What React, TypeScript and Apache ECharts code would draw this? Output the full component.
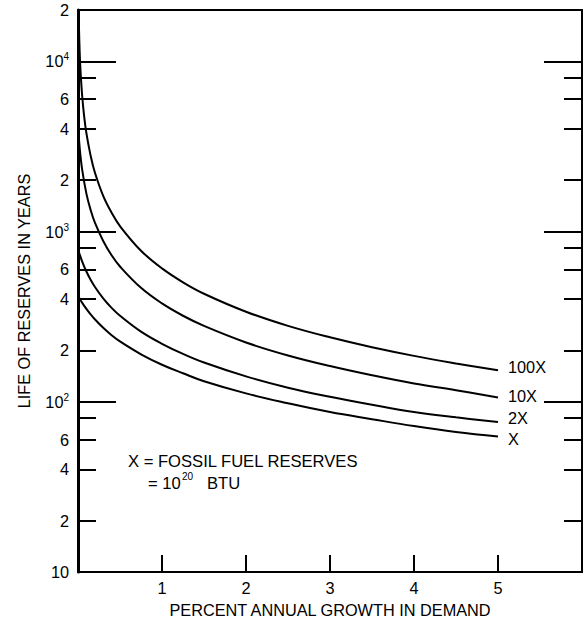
import React, { useEffect, useRef } from 'react';
import * as echarts from 'echarts';

// Percent annual growth in demand (x) and life of reserves in years (y)
const growthCommon = [0, 0.02, 0.05, 0.1, 0.15, 0.2, 0.3, 0.4, 0.5, 0.75, 1, 1.25, 1.5, 2, 2.5, 3, 3.5, 4, 4.5, 5];
const lifeX = [420, 403, 381, 351, 326, 305, 272, 246, 226, 190, 165, 147, 132, 112, 98, 87, 79, 72, 66.5, 62.5];
const life2X = [790, 733, 666, 582, 521, 474, 405, 356, 320, 258, 219, 191, 170, 141, 121, 107, 96, 87, 81, 76];
const life10X = [4300, 3100, 2300, 1670, 1340, 1130, 880, 725, 623, 467, 378, 320, 279, 223, 187, 162, 143, 128, 117, 106];
const growth100X = [0.01, 0.02, 0.03, 0.05, 0.075, 0.1, 0.15, 0.2, 0.3, 0.4, 0.5, 0.75, 1, 1.25, 1.5, 2, 2.5, 3, 3.5, 4, 4.5, 5];
const life100X = [16700, 11300, 8770, 6230, 4670, 3780, 2790, 2230, 1620, 1290, 1075, 771, 607, 503, 431, 338, 279, 239, 209, 186, 168, 153];

const xTickValues = [1, 2, 3, 4, 5];
const yDecadeTicks = [100, 1000, 10000];
const yMinorTicks = [20, 40, 60, 80, 200, 400, 600, 800, 2000, 4000, 6000, 8000];
const yLabelValues = [10, 20, 40, 60, 100, 200, 400, 600, 1000, 2000, 4000, 6000, 10000, 20000];
const Y_MIN = 10;
const Y_MAX = 20000;

const FONT = "'Liberation Sans', Arial, sans-serif";
const FS = 16.3;

export default function App() {
  const ref = useRef<HTMLDivElement>(null);
  useEffect(() => {
    if (!ref.current) return;
    const chart = echarts.init(ref.current, null, { renderer: 'svg' });
    const lg = (v: number) => Math.log10(v);
    const lmin = lg(Y_MIN);
    const lmax = lg(Y_MAX);

    const labelFmt = (v: number) => {
      const n = Math.round(Math.pow(10, v));
      if (n === 10) return '10';
      if (n === 100) return '{b|10}{s|2}';
      if (n === 1000) return '{b|10}{s|3}';
      if (n === 10000) return '{b|10}{s|4}';
      return String(n).charAt(0);
    };

    const tickAxis = (pos: 'left' | 'right', vals: number[], len: number, labels: boolean) => ({
      type: 'value',
      position: pos,
      min: lmin,
      max: lmax,
      splitLine: { show: false },
      axisLine: { show: false },
      axisTick: {
        show: true,
        inside: true,
        length: len,
        customValues: vals.map(lg),
        lineStyle: { color: '#000', width: 2 },
      },
      axisLabel: labels
        ? {
            show: true,
            customValues: yLabelValues.map(lg),
            formatter: labelFmt,
            color: '#000',
            fontFamily: FONT,
            fontSize: FS,
            margin: 9,
            rich: {
              b: { fontFamily: FONT, fontSize: FS, color: '#000' },
              s: { fontFamily: FONT, fontSize: 10, color: '#000', padding: [0, 0, 9, 0] },
            },
          }
        : { show: false },
    });

    const lineSeries = (name: string, xs: number[], ys: number[], offset: number[]) => ({
      type: 'line',
      name,
      xAxisIndex: 0,
      yAxisIndex: 0,
      data: xs.map((x, i) => [x, ys[i]]),
      showSymbol: false,
      symbol: 'none',
      smooth: 0.4,
      lineStyle: { color: '#000', width: 2 },
      endLabel: {
        show: true,
        formatter: name,
        color: '#000',
        fontFamily: FONT,
        fontSize: FS,
        offset,
      },
      silent: true,
    });

    const txt = (text: string, left: number, top: number, size: number) => ({
      type: 'text',
      left,
      top,
      style: { text, fill: '#000', fontFamily: FONT, fontSize: size },
    });

    chart.setOption({
      animation: false,
      backgroundColor: '#fff',
      grid: {
        left: 78,
        right: 2,
        top: 10,
        bottom: 51,
        show: true,
        borderColor: '#000',
        borderWidth: 2,
        backgroundColor: 'transparent',
      },
      xAxis: [
        {
          type: 'value',
          min: 0,
          max: 6,
          interval: 1,
          splitLine: { show: false },
          axisLine: { show: true, lineStyle: { color: '#000', width: 2 } },
          axisTick: {
            show: true,
            inside: true,
            length: 17,
            customValues: xTickValues,
            lineStyle: { color: '#000', width: 2 },
          },
          axisLabel: {
            show: true,
            customValues: xTickValues,
            color: '#000',
            fontFamily: FONT,
            fontSize: FS,
            margin: 8,
          },
          name: 'PERCENT ANNUAL GROWTH IN DEMAND',
          nameLocation: 'middle',
          nameGap: 30,
          nameTextStyle: { color: '#000', fontFamily: FONT, fontSize: FS },
        },
      ],
      yAxis: [
        {
          type: 'log',
          logBase: 10,
          min: Y_MIN,
          max: Y_MAX,
          position: 'left',
          splitLine: { show: false },
          axisLine: { show: true, lineStyle: { color: '#000', width: 3 } },
          axisTick: { show: false },
          axisLabel: { show: false },
          name: 'LIFE OF RESERVES IN YEARS',
          nameLocation: 'middle',
          nameGap: 46,
          nameTextStyle: { color: '#000', fontFamily: FONT, fontSize: FS },
        },
        tickAxis('left', yDecadeTicks, 38, true),
        tickAxis('left', yMinorTicks, 18, false),
        tickAxis('right', yDecadeTicks, 38, false),
        tickAxis('right', yMinorTicks, 18, false),
      ],
      series: [
        lineSeries('100X', growth100X, life100X, [2, -3]),
        lineSeries('10X', growthCommon, life10X, [2, -1]),
        lineSeries('2X', growthCommon, life2X, [2, -4]),
        lineSeries('X', growthCommon, lifeX, [2, 2]),
      ],
      graphic: [
        txt('X = FOSSIL FUEL RESERVES', 128, 453, 16.6),
        txt('= 10', 148, 475, 16.6),
        txt('20', 182, 471, 10),
        txt('BTU', 207, 475, 16.6),
      ],
    });
    return () => chart.dispose();
  }, []);
  return <div ref={ref} style={{ width: 584, height: 623, position: 'absolute', left: 0, top: 0 }} />;
}
